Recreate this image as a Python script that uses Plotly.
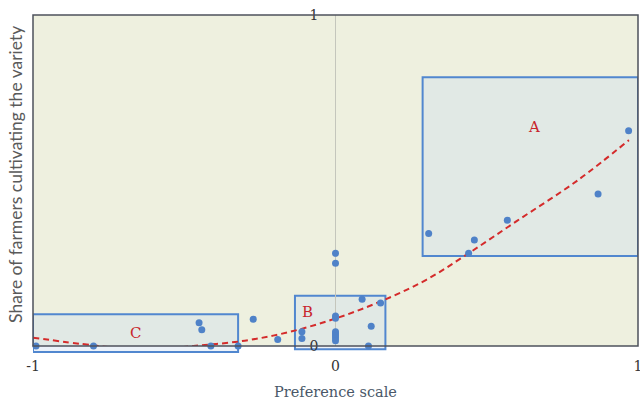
import plotly.graph_objects as go

# Observed varieties: preference scale vs share of farmers
pref = [-0.99, -0.80, -0.451, -0.442, -0.412, -0.322, -0.272, -0.191, -0.111, -0.111,
        0.0, 0.0, 0.0, 0.0, 0.0, 0.0, 0.0, 0.0, 0.0,
        0.088, 0.149, 0.118, 0.109, 0.308, 0.440, 0.459, 0.568, 0.868, 0.969]
share = [0.0, 0.0, 0.070, 0.049, 0.0, 0.0, 0.081, 0.020, 0.043, 0.023,
         0.280, 0.250, 0.091, 0.084, 0.043, 0.037, 0.031, 0.024, 0.016,
         0.141, 0.130, 0.060, 0.0, 0.340, 0.280, 0.320, 0.380, 0.459, 0.650]

# Trend curve
trend_x = [-1.0, -0.8, -0.63, -0.47, -0.3, -0.15, 0.0, 0.15, 0.3, 0.44, 0.6, 0.8, 0.97]
trend_y = [0.025, 0.002, -0.012, 0.0, 0.016, 0.043, 0.083, 0.135, 0.2, 0.28, 0.378, 0.5, 0.622]

# Zones
zones = ["A", "B", "C"]
zone_x0 = [0.288, -0.134, -1.0]
zone_x1 = [1.0, 0.165, -0.322]
zone_y0 = [0.272, -0.010, -0.018]
zone_y1 = [0.812, 0.152, 0.096]
label_x = [0.655, -0.094, -0.66]
label_y = [0.662, 0.104, 0.038]

x_ticks = [-1, 0, 1]
x_tick_text = ["-1", "0", "1"]
y_ticks = [0, 1]
y_tick_text = ["0", "1"]

fig = go.Figure()

fig.add_trace(go.Scatter(
    x=trend_x, y=trend_y, mode="lines", line_shape="spline",
    line=dict(color="#d42b2b", width=2, dash="6px,4px"),
    hoverinfo="skip", showlegend=False))

fig.add_trace(go.Scatter(
    x=pref, y=share, mode="markers", cliponaxis=False,
    marker=dict(color="#4f82c8", size=7),
    showlegend=False))

for i, z in enumerate(zones):
    fig.add_shape(type="rect", xref="x", yref="paper",
                  x0=zone_x0[i], x1=zone_x1[i], y0=zone_y0[i], y1=zone_y1[i],
                  fillcolor="rgba(205,222,238,0.38)",
                  line=dict(color="#5187cf", width=2), layer="below")
    fig.add_annotation(x=label_x[i], y=label_y[i], text=z, showarrow=False,
                       font=dict(family="DejaVu Serif", size=15, color="#c8262b"))

# plot frame
fig.add_shape(type="rect", xref="paper", yref="paper", x0=0, x1=1, y0=0, y1=1,
              line=dict(color="#4d525c", width=1.5), layer="above")

fig.add_annotation(xref="paper", yref="paper", x=-0.028, y=0.517,
                   text="Share of farmers cultivating the variety", textangle=-90,
                   showarrow=False, xanchor="center", yanchor="middle",
                   font=dict(family="Lato", size=17.5, color="#5a5a5a"))

fig.update_layout(
    width=640, height=400,
    margin=dict(l=33, r=2, t=15, b=54, autoexpand=False),
    paper_bgcolor="white", plot_bgcolor="#eef0df",
    showlegend=False,
    xaxis=dict(range=[-1, 1], tickvals=x_ticks, ticktext=x_tick_text,
               automargin=False, ticklabeloverflow="allow",
               showgrid=False, showline=False, ticks="",
               zeroline=True, zerolinecolor="#c4c6bc", zerolinewidth=1,
               tickfont=dict(family="DejaVu Serif", size=14, color="#333333"),
               ticklabelstandoff=10,
               title=dict(text="Preference scale", standoff=14,
                          font=dict(family="DejaVu Serif", size=14.5, color="#4a5868"))),
    yaxis=dict(range=[0, 1], tickvals=y_ticks, ticktext=y_tick_text,
               automargin=False, ticklabeloverflow="allow",
               anchor="free", position=0.5, showgrid=False, showline=False,
               zeroline=False, ticks="", ticklabelstandoff=17,
               tickfont=dict(family="DejaVu Serif", size=14, color="#333333")),
)

fig.write_html("out.html",
               config={"displayModeBar": False},
               post_script="document.body.style.margin='0';document.body.style.overflow='hidden';")
